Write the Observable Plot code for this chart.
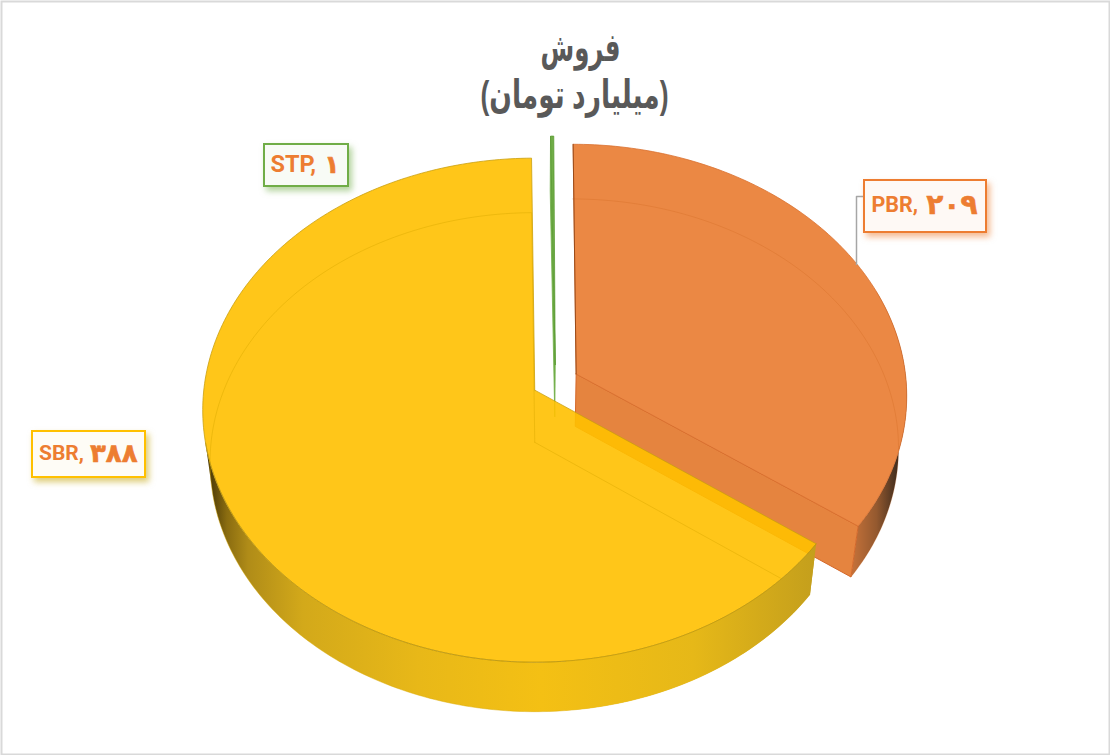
<!DOCTYPE html>
<html>
<head>
<meta charset="utf-8">
<script src="https://cdn.jsdelivr.net/npm/d3@7"></script>
<script src="https://cdn.jsdelivr.net/npm/@observablehq/plot@0.6"></script>
<style>
html,body{margin:0;padding:0;background:#fff}
svg{display:block}
</style>
</head>
<body>
<div id="chart"></div>
<script>
const categories = ["PBR", "SBR", "STP"];
const seriesValues = [209, 388, 1];
const titleLines = ["فروش", "(میلیارد تومان)"];
const sliceColors = ["#EB8844", "#FFC000", "#70AD47"];

const fa = v => String(v).replace(/\d/g, d => "۰۱۲۳۴۵۶۷۸۹"[d]);

// 3D view of the pie
const view = {x0: 534.5, y0: 390, a: 331, b: 250.5, p: 0.0795, u0: 0.062, v0: -0.034, explode: 0.0707,
  shrink: 0.978, drop: 52, dropSlope: 0.01, yRef: 410};
const total = d3.sum(seriesValues);
let acc = 0;
const slices = categories.map((name, i) => {
  const t0 = acc / total * 2 * Math.PI;
  acc += seriesValues[i];
  const t1 = acc / total * 2 * Math.PI;
  const mid = (t0 + t1) / 2;
  return {name, t0, t1, du: view.u0 + view.explode * Math.sin(mid), dv: view.v0 - view.explode * Math.cos(mid)};
});
function project(s, r, t, z) {
  const u = s.du + r * Math.sin(t), v = s.dv - r * Math.cos(t);
  const d = 1 - view.p * v;
  let X = view.x0 + view.a * u / d, Y = view.y0 + view.b * v / d;
  if (z) {
    X = view.x0 + (X - view.x0) * view.shrink;
    Y = Y + view.drop - view.dropSlope * (Y - view.yRef);
  }
  return {x: X, y: Y};
}
function arc(s, t0, t1, z) {
  const n = Math.max(2, Math.ceil(Math.abs(t1 - t0) / (Math.PI / 180)));
  return d3.range(n + 1).map(i => project(s, 1, t0 + (t1 - t0) * i / n, z));
}
const top_ = s => [project(s, 0, 0, 0), ...arc(s, s.t0, s.t1, 0), project(s, 0, 0, 0)];
const bottom = s => [project(s, 0, 0, 1), ...arc(s, s.t0, s.t1, 1), project(s, 0, 0, 1)];
const wall = (s, t0, t1) => { const a = arc(s, t0, t1, 0), b = arc(s, t1, t0, 1); return [...a, ...b, a[0]]; };
const radialFace = (s, t) => [project(s, 0, 0, 0), project(s, 1, t, 0), project(s, 1, t, 1), project(s, 0, 0, 1), project(s, 0, 0, 0)];

const [pbr, sbr, stp] = slices;
const deg = d => d * Math.PI / 180;

const gradientDefs = () => {
  const ns = "http://www.w3.org/2000/svg";
  const defs = document.createElementNS(ns, "defs");
  defs.innerHTML = `
  <linearGradient id="yellowWall" gradientUnits="userSpaceOnUse" x1="205" x2="815" y1="0" y2="0">
    <stop offset="0" stop-color="#3d2e05"/><stop offset="0.035" stop-color="#8a6c10"/>
    <stop offset="0.07" stop-color="#b08c18"/><stop offset="0.16" stop-color="#d3a91a"/>
    <stop offset="0.35" stop-color="#e8b818"/><stop offset="0.55" stop-color="#f4c014"/>
    <stop offset="0.8" stop-color="#e6b818"/><stop offset="1" stop-color="#c49f1c"/>
  </linearGradient>
  <linearGradient id="orangeWall" gradientUnits="userSpaceOnUse" x1="850" x2="902" y1="0" y2="0">
    <stop offset="0" stop-color="#c8733a"/><stop offset="0.5" stop-color="#94592f"/>
    <stop offset="1" stop-color="#2e231a"/>
  </linearGradient>`;
  return defs;
};

const poly = (pts, o) => Plot.line(pts, {x: "x", y: "y", strokeWidth: 0.8, ...o});

const boxes = [
  {name: "PBR", x1: 864, x2: 986, y1: 180, y2: 232, stroke: "#ED7D31", fill: "#FEF9F5", shadow: "#ED7D3188", lx: 871, dx: 977, ly: 205, ls: 21.5, ds: 28, sp: 5, text: "PBR,", value: seriesValues[0]},
  {name: "SBR", x1: 32, x2: 145, y1: 431, y2: 477, stroke: "#FFC000", fill: "#FEFCF6", shadow: "#BFA00088", lx: 38.5, dx: 137, ly: 453, ls: 21, ds: 26, sp: 0, text: "SBR,", value: seriesValues[1]},
  {name: "STP", x1: 264, x2: 348, y1: 144, y2: 186, stroke: "#70AD47", fill: "#F8FBF6", shadow: "#70AD4788", lx: 270, dx: 339, ly: 164, ls: 23.5, ds: 25, sp: 0, text: "STP,", value: seriesValues[2]}
];
const leader = [{x: 856, y: 264}, {x: 856, y: 196}, {x: 864, y: 196}];
const titleLayout = [{text: titleLines[0], x: 580, y: 48, len: 80}, {text: titleLines[1], x: 574, y: 95, len: 188}];
const labelFont = "Roboto, 'DejaVu Sans', sans-serif";

const chart = Plot.plot({
  width: 1110, height: 755,
  marginTop: 0, marginRight: 0, marginBottom: 0, marginLeft: 0,
  x: {domain: [0, 1110], range: [0, 1110], axis: null},
  y: {domain: [0, 755], range: [0, 755], axis: null},
  marks: [
    gradientDefs,
    Plot.frame({stroke: "#D9D9D9", strokeWidth: 2, inset: 1}),
    // SBR wall, with a white backing for its translucent top
    poly(wall(sbr, sbr.t0, deg(258)), {fill: "url(#yellowWall)", stroke: "none"}),
    poly(top_(sbr), {fill: "#fff", stroke: "none"}),
    // STP sliver
    poly(radialFace(stp, stp.t0), {fill: sliceColors[2], stroke: sliceColors[2]}),
    poly(top_(stp), {fill: sliceColors[2], stroke: "#5B9A34"}),
    // PBR
    poly(wall(pbr, deg(70), pbr.t1), {fill: "url(#orangeWall)", stroke: "none"}),
    poly(radialFace(pbr, pbr.t1), {fill: "#E5843F", stroke: "#D4682A", strokeWidth: 1}),
    poly(top_(pbr), {fill: sliceColors[0], stroke: "#D9702E", strokeWidth: 0.8}),
    poly(arc(pbr, pbr.t0, pbr.t1, 1), {stroke: "#C55A11", strokeOpacity: 0.22, strokeWidth: 1}),
    Plot.line([project(pbr, 0, 0, 0), project(pbr, 1, 0, 0)], {x: "x", y: "y", stroke: "#9A4A18", strokeWidth: 1}),
    // SBR top
    poly(top_(sbr), {fill: sliceColors[1], fillOpacity: 0.9, stroke: "#C9A010", strokeWidth: 0.8}),
    poly(bottom(sbr), {stroke: "#D9A800", strokeOpacity: 0.45, strokeWidth: 1}),
    poly(wall(sbr, sbr.t0, deg(175)), {fill: "url(#yellowWall)", stroke: "none"}),
    poly(arc(sbr, sbr.t0, deg(258), 0), {stroke: "#B8940E", strokeOpacity: 0.8, strokeWidth: 0.8}),
    // Leader line
    Plot.line(leader, {x: "x", y: "y", stroke: "#A6A6A6", strokeWidth: 1.5}),
    // Data labels
    ...boxes.flatMap(b => [
      Plot.rect([b], {x1: "x1", x2: "x2", y1: "y1", y2: "y2", fill: b.fill, stroke: b.stroke, strokeWidth: 2,
        imageFilter: `drop-shadow(3px 4px 3px ${b.shadow})`}),
      Plot.text([b], {x: "lx", y: "ly", text: "text", textAnchor: "start", fill: "#ED7D31", fontWeight: 700, fontSize: b.ls, fontFamily: labelFont}),
      Plot.text([b], {x: "dx", y: "ly", text: d => fa(d.value), textAnchor: "end", fill: "#ED7D31", stroke: "#ED7D31", strokeWidth: 0.6, fontWeight: 700, fontSize: b.ds, fontFamily: "'DejaVu Sans', sans-serif", letterSpacing: b.sp})
    ]),
    // Title
    Plot.text(titleLayout, {x: "x", y: "y", text: "text", fontSize: 39, fontWeight: 700, fill: "#595959",
      fontFamily: "'Liberation Sans', Arial, 'DejaVu Sans', sans-serif",
      render(index, scales, values, dimensions, context, next) {
        const g = next(index, scales, values, dimensions, context);
        d3.select(g).selectAll("text")
          .attr("textLength", (d, i) => titleLayout[index[i]].len)
          .attr("lengthAdjust", "spacingAndGlyphs");
        return g;
      }})
  ]
});
document.getElementById("chart").append(chart);
</script>
</body>
</html>
